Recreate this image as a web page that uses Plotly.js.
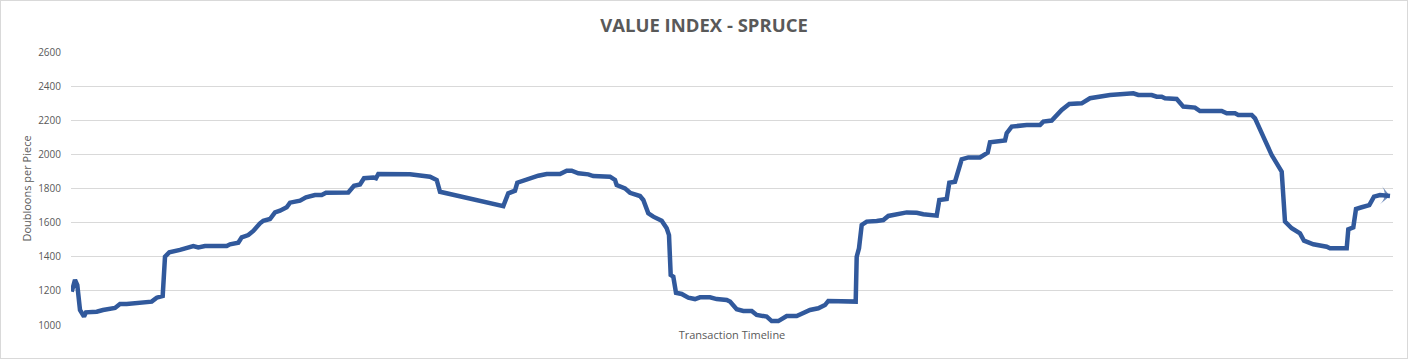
<!DOCTYPE html>
<html>
<head>
<meta charset="utf-8">
<script src="https://cdn.plot.ly/plotly-3.0.1.min.js"></script>
<style>
html,body{margin:0;padding:0;background:#fff;}
#wrap{width:1408px;height:359px;box-sizing:border-box;border:1px solid #d9d9d9;}
#chart{width:1406px;height:357px;}
</style>
</head>
<body>
<div id="wrap"><div id="chart"></div></div>
<script>
// Transaction position along the timeline
const txn = [
  0.7, 4, 6.3, 9, 13, 15, 25.7, 32, 44, 49,
  55.7, 65.7, 70.7, 80.7, 85.7, 91.7, 94, 98.3, 109, 115.7,
  122.3, 127.3, 134, 155.7, 159, 167.3, 170.7, 177.3, 182.3, 189,
  192.3, 199, 204, 209, 215.7, 219, 229, 235, 244, 250.7,
  255, 277.3, 283, 289, 293, 302.3, 305, 307.3, 322.3, 339,
  359, 365.7, 369, 389, 405.7, 422.3, 432.3, 437.3, 444, 446.3,
  455.7, 467.3, 475.7, 489, 495.7, 500.7, 507.3, 517.3, 522.3, 539,
  544, 545.7, 554, 559, 569, 572.3, 577.3, 582.3, 590.7, 595.7,
  598, 599.7, 602.3, 605, 610.7, 617.3, 624, 629, 639, 645.7,
  655.7, 659, 665.7, 672.3, 680.7, 685.7, 695.7, 700.7, 707.3, 715.7,
  725.7, 732.3, 739, 747.3, 754, 757.3, 782.3, 784.7, 785.7, 788,
  790.7, 795.7, 805.7, 812.3, 817.3, 827.3, 835.7, 845.7, 852.3, 865.7,
  868.3, 875.7, 878.3, 884, 887.3, 890.7, 897.3, 909, 916.7, 919,
  934, 935.7, 940.7, 955.7, 969, 972.3, 980.7, 984, 990.7, 998.3,
  1010.7, 1019, 1029, 1039, 1062.3, 1067.3, 1080.7, 1085.7, 1090.7, 1094,
  1105.7, 1112.3, 1124, 1129, 1150.7, 1155.7, 1164, 1167.3, 1180.7, 1184,
  1192.3, 1200.7, 1210.7, 1214, 1220.7, 1229, 1233, 1242.3, 1255.7, 1259,
  1275.7, 1277.3, 1282.3, 1285, 1290.7, 1298.3, 1303, 1309, 1319
];
// Doubloons per piece
const price = [
  1195, 1264, 1234, 1088, 1049, 1074, 1078, 1088, 1100, 1123,
  1123, 1129, 1137, 1137, 1160, 1170, 1400, 1426, 1440, 1455,
  1463, 1455, 1463, 1463, 1473, 1482, 1514, 1527, 1551, 1596,
  1611, 1621, 1660, 1670, 1690, 1717, 1729, 1748, 1762, 1762,
  1775, 1777, 1816, 1824, 1860, 1865, 1860, 1885, 1885, 1883,
  1869, 1850, 1781, 1756, 1733, 1713, 1697, 1772, 1787, 1834,
  1854, 1875, 1885, 1885, 1904, 1904, 1889, 1883, 1873, 1869,
  1850, 1820, 1801, 1775, 1756, 1733, 1655, 1635, 1611, 1567,
  1527, 1293, 1283, 1189, 1182, 1160, 1152, 1162, 1162, 1152,
  1147, 1137, 1092, 1082, 1082, 1059, 1049, 1023, 1023, 1053,
  1053, 1068, 1088, 1098, 1117, 1141, 1137, 1137, 1400, 1450,
  1586, 1606, 1609, 1615, 1639, 1649, 1660, 1658, 1649, 1641,
  1733, 1738, 1834, 1840, 1908, 1971, 1982, 1982, 2010, 2071,
  2081, 2124, 2163, 2172, 2172, 2192, 2198, 2221, 2260, 2295,
  2299, 2329, 2338, 2348, 2358, 2348, 2348, 2338, 2338, 2329,
  2325, 2280, 2274, 2254, 2254, 2241, 2241, 2231, 2231, 2211,
  2104, 1996, 1899, 1606, 1567, 1537, 1494, 1473, 1459, 1450,
  1450, 1561, 1572, 1680, 1690, 1703, 1752, 1762, 1756
];
const yTicks = [1000, 1200, 1400, 1600, 1800, 2000, 2200, 2400, 2600];

const markerSizes = txn.map((_, i) => i === txn.length - 1 ? 13 : 0);

const trace = {
  x: txn, y: price, type: 'scatter', mode: 'lines+markers',
  line: {color: '#31599c', width: 4.5},
  marker: {symbol: 'arrow-wide', angleref: 'previous', size: markerSizes, color: '#31599c', line: {width: 0}},
  hoverinfo: 'skip'
};

const layout = {
  width: 1406, height: 357,
  margin: {l: 70, r: 14, t: 51, b: 33},
  paper_bgcolor: '#ffffff', plot_bgcolor: '#ffffff',
  showlegend: false,
  title: {text: '<b>VALUE INDEX - SPRUCE</b>', x: 0.5, xanchor: 'center', y: 0.93, yanchor: 'middle',
          font: {family: 'Open Sans, sans-serif', size: 18.5, color: '#595959'}},
  xaxis: {range: [0, 1322], showgrid: false, zeroline: false, showticklabels: false, ticks: '', showline: false,
          title: {text: 'Transaction Timeline', standoff: 6, font: {family: 'Open Sans, sans-serif', size: 11, color: '#595959'}}},
  yaxis: {range: [1000, 2600], tickvals: yTicks, ticktext: yTicks.map(String), showgrid: true, gridcolor: '#d9d9d9', gridwidth: 1,
          zeroline: false, showline: false, ticks: '', ticklabelstandoff: 9,
          tickfont: {family: 'Open Sans, sans-serif', size: 10, color: '#595959'},
          title: {text: 'Doubloons per Piece', standoff: 4, font: {family: 'Open Sans, sans-serif', size: 11, color: '#595959'}}}
};

Plotly.newPlot('chart', [trace], layout, {displayModeBar: false, staticPlot: true});
</script>
</body>
</html>
